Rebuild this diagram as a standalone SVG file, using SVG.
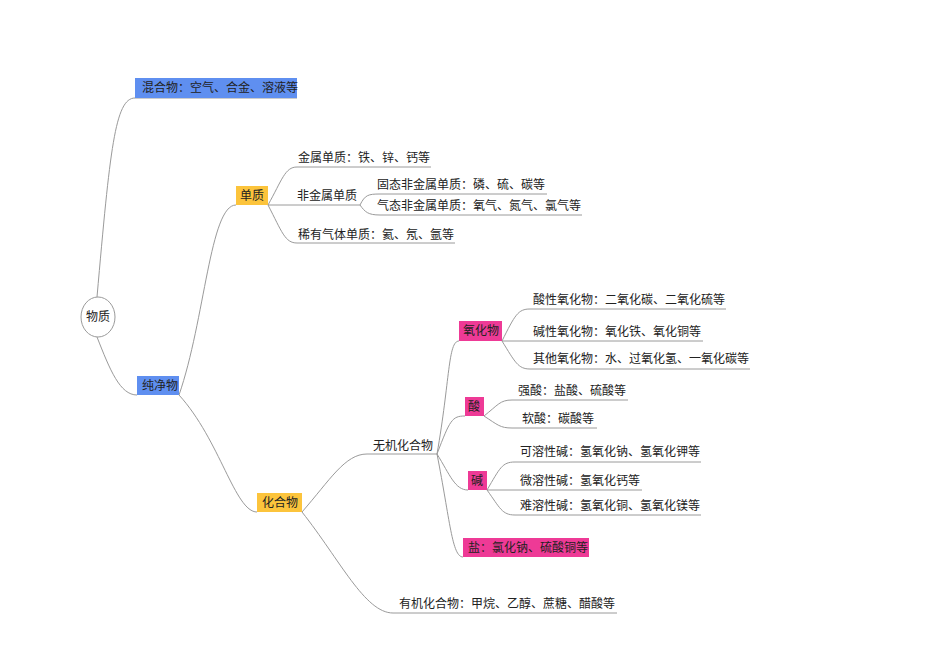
<svg xmlns="http://www.w3.org/2000/svg" width="950" height="672" viewBox="0 0 950 672">
<style>
text{font-family:"Noto Sans CJK SC",sans-serif;font-size:12px;fill:#222}
.c{fill:none;stroke:#9a9a9a;stroke-width:1}
.blue{fill:#5f8ff0}.yel{fill:#fcc43c}.pink{fill:#ee3a96}
</style>
<rect width="950" height="672" fill="#fff"/>
<g id="connectors">
<path class="c" d="M97,297 C110,150 115,98 135,98 L297,98"/>
<path class="c" d="M97,337 C110,370 120,395 137,395"/>
<path class="c" d="M179,395 C205,320 210,205 236,205"/>
<path class="c" d="M179,395 C220,440 235,512 257,512"/>
<path class="c" d="M268,205 C282,180 285,167 297,167 L431,167"/>
<path class="c" d="M268,205 L360,205"/>
<path class="c" d="M360,205 C365,195 368,194 380,194 L547,194"/>
<path class="c" d="M360,205 C365,212 368,215 380,215 L582,215"/>
<path class="c" d="M268,205 C282,232 285,243 297,243 L455,243"/>
<path class="c" d="M302,512 C330,480 345,454 367,454 L437,454"/>
<path class="c" d="M302,512 C340,560 365,613 393,613 L617,613"/>
<path class="c" d="M437,454 C450,380 448,341 459,341"/>
<path class="c" d="M437,454 C450,420 452,416 465,416"/>
<path class="c" d="M437,454 C450,475 455,490 468,490"/>
<path class="c" d="M437,454 C450,520 452,557 463,557"/>
<path class="c" d="M502,341 C515,315 518,309 530,309 L726,309"/>
<path class="c" d="M502,341 L703,341"/>
<path class="c" d="M502,341 C515,362 518,369 530,369 L750,369"/>
<path class="c" d="M484,416 C498,405 500,400 512,400 L628,400"/>
<path class="c" d="M484,416 C498,425 500,428 512,428 L597,428"/>
<path class="c" d="M487,490 C500,468 502,462 515,462 L701,462"/>
<path class="c" d="M487,490 L642,490"/>
<path class="c" d="M487,490 C500,508 502,515 515,515 L701,515"/>
</g>
<g id="root"><ellipse cx="98" cy="317" rx="17" ry="20" fill="#fff" stroke="#9a9a9a"/><text x="98" y="321" text-anchor="middle">物质</text></g>
<g id="mix"><rect class="blue" x="135" y="78" width="162" height="20"/><text x="142" y="92">混合物：空气、合金、溶液等</text></g>
<g id="pure"><rect class="blue" x="137" y="376" width="42" height="19"/><text x="142" y="390">纯净物</text></g>
<g id="elem"><rect class="yel" x="236" y="186" width="32" height="19"/><text x="240" y="200">单质</text></g>
<g id="metal"><text x="298" y="162">金属单质：铁、锌、钙等</text></g>
<g id="nonmetal"><text x="297" y="200">非金属单质</text></g>
<g id="solid"><text x="377" y="189">固态非金属单质：磷、硫、碳等</text></g>
<g id="gas"><text x="377" y="210">气态非金属单质：氧气、氮气、氯气等</text></g>
<g id="noble"><text x="298" y="239">稀有气体单质：氦、氖、氩等</text></g>
<g id="compound"><rect class="yel" x="257" y="493" width="45" height="19"/><text x="262" y="507">化合物</text></g>
<g id="inorg"><text x="373" y="450">无机化合物</text></g>
<g id="org"><text x="399" y="608">有机化合物：甲烷、乙醇、蔗糖、醋酸等</text></g>
<g id="oxide"><rect class="pink" x="459" y="321" width="43" height="20"/><text x="463" y="335">氧化物</text></g>
<g id="ox1"><text x="533" y="304">酸性氧化物：二氧化碳、二氧化硫等</text></g>
<g id="ox2"><text x="533" y="336">碱性氧化物：氧化铁、氧化铜等</text></g>
<g id="ox3"><text x="533" y="363">其他氧化物：水、过氧化氢、一氧化碳等</text></g>
<g id="acid"><rect class="pink" x="465" y="397" width="19" height="19"/><text x="468" y="411">酸</text></g>
<g id="ac1"><text x="518" y="395">强酸：盐酸、硫酸等</text></g>
<g id="ac2"><text x="522" y="423">软酸：碳酸等</text></g>
<g id="base"><rect class="pink" x="468" y="471" width="19" height="19"/><text x="471" y="485">碱</text></g>
<g id="b1"><text x="520" y="456">可溶性碱：氢氧化钠、氢氧化钾等</text></g>
<g id="b2"><text x="520" y="485">微溶性碱：氢氧化钙等</text></g>
<g id="b3"><text x="520" y="510">难溶性碱：氢氧化铜、氢氧化镁等</text></g>
<g id="salt"><rect class="pink" x="463" y="538" width="126" height="19"/><text x="468" y="552">盐：氯化钠、硫酸铜等</text></g>
</svg>
